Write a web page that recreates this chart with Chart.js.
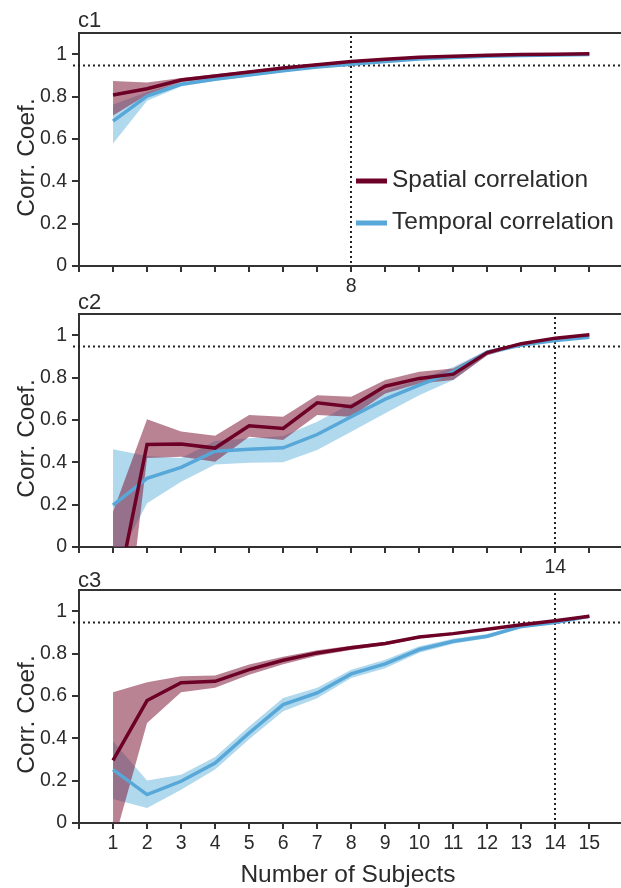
<!DOCTYPE html>
<html lang="en">
<head>
    <meta charset="UTF-8">
    <title>Corr. Coef. vs Number of Subjects</title>
    <style>
        html, body { margin: 0; padding: 0; background: #fff; overflow: hidden; }
        #wrap { position: relative; width: 621px; height: 888px; }
        canvas { position: absolute; left: 0; }
    </style>
</head>
<body>
    <div id="wrap">
        <canvas id="c1" width="621" height="300" style="top:0px"></canvas>
        <canvas id="c2" width="621" height="290" style="top:290px"></canvas>
        <canvas id="c3" width="621" height="318" style="top:570px"></canvas>
    </div>
    <script src="https://cdn.jsdelivr.net/npm/chart.js"></script>
    <script>
        // number of subjects on the x axis
        const subjects = [1, 2, 3, 4, 5, 6, 7, 8, 9, 10, 11, 12, 13, 14, 15];
        const xTickValues = [0, 1, 2, 3, 4, 5, 6, 7, 8, 9, 10, 11, 12, 13, 14, 15];
        const yTickValues = [0, 0.2, 0.4, 0.6, 0.8, 1];
        const threshold = 0.95;

        // c1
        const c1Spatial    = [0.807, 0.837, 0.878, 0.897, 0.916, 0.935, 0.950, 0.965, 0.976, 0.986, 0.990, 0.995, 0.998, 1.000, 1.002];
        const c1SpatialHi  = [0.873, 0.866, 0.888, 0.905, 0.923, 0.941, 0.956, 0.970, 0.980, 0.989, 0.993, 0.997, 0.999, 1.001, 1.003];
        const c1SpatialLo  = [0.711, 0.808, 0.868, 0.889, 0.909, 0.929, 0.944, 0.960, 0.972, 0.983, 0.987, 0.993, 0.997, 0.999, 1.001];
        const c1Temporal   = [0.684, 0.802, 0.858, 0.882, 0.902, 0.922, 0.939, 0.953, 0.966, 0.977, 0.984, 0.990, 0.994, 0.996, 0.998];
        const c1TemporalHi = [0.763, 0.822, 0.868, 0.890, 0.909, 0.928, 0.944, 0.958, 0.970, 0.980, 0.987, 0.992, 0.996, 0.998, 0.999];
        const c1TemporalLo = [0.578, 0.780, 0.848, 0.874, 0.895, 0.916, 0.934, 0.948, 0.962, 0.974, 0.981, 0.988, 0.992, 0.994, 0.997];
        const c1Cross = 8;
        const c1XLabels = [8];

        // c2
        const c2Spatial    = [-0.31, 0.484, 0.486, 0.467, 0.572, 0.560, 0.681, 0.662, 0.759, 0.796, 0.816, 0.918, 0.960, 0.986, 1.002];
        const c2SpatialHi  = [0.166, 0.603, 0.545, 0.525, 0.623, 0.615, 0.717, 0.709, 0.788, 0.827, 0.843, 0.928, 0.966, 0.990, 1.005];
        const c2SpatialLo  = [-0.935, 0.420, 0.426, 0.402, 0.520, 0.505, 0.623, 0.615, 0.725, 0.772, 0.788, 0.905, 0.954, 0.982, 0.998];
        const c2Temporal   = [0.198, 0.324, 0.376, 0.452, 0.462, 0.468, 0.531, 0.615, 0.698, 0.764, 0.827, 0.920, 0.953, 0.975, 0.990];
        const c2TemporalHi = [0.462, 0.430, 0.420, 0.500, 0.513, 0.524, 0.591, 0.678, 0.740, 0.790, 0.850, 0.930, 0.960, 0.980, 0.994];
        const c2TemporalLo = [-0.10, 0.206, 0.308, 0.390, 0.398, 0.400, 0.458, 0.544, 0.631, 0.717, 0.788, 0.905, 0.945, 0.970, 0.986];
        const c2Cross = 14;
        const c2XLabels = [14];

        // c3
        const c3Spatial    = [0.296, 0.578, 0.662, 0.669, 0.724, 0.768, 0.803, 0.827, 0.847, 0.878, 0.894, 0.915, 0.936, 0.955, 0.976];
        const c3SpatialHi  = [0.617, 0.665, 0.693, 0.696, 0.748, 0.785, 0.815, 0.837, 0.855, 0.884, 0.899, 0.919, 0.939, 0.958, 0.979];
        const c3SpatialLo  = [-0.104, 0.472, 0.617, 0.638, 0.700, 0.750, 0.790, 0.817, 0.839, 0.872, 0.889, 0.911, 0.933, 0.952, 0.973];
        const c3Temporal   = [0.252, 0.134, 0.197, 0.283, 0.425, 0.559, 0.614, 0.704, 0.751, 0.819, 0.858, 0.882, 0.928, 0.946, 0.976];
        const c3TemporalHi = [0.386, 0.201, 0.228, 0.312, 0.455, 0.590, 0.639, 0.724, 0.771, 0.834, 0.870, 0.892, 0.936, 0.951, 0.981];
        const c3TemporalLo = [0.113, 0.071, 0.157, 0.252, 0.395, 0.528, 0.589, 0.684, 0.731, 0.804, 0.846, 0.872, 0.920, 0.941, 0.971];
        const c3Cross = 14;
        const c3XLabels = subjects;

        const FONT = "'Liberation Sans', Arial, sans-serif";
        const INK = '#2b2b2b';
        const SPATIAL = '#6d0026';
        const SPATIAL_BAND = 'rgba(130, 30, 60, 0.55)';
        const TEMPORAL = '#57a7d8';
        const TEMPORAL_BAND = 'rgba(100, 180, 220, 0.5)';

        Chart.defaults.font.family = FONT;
        Chart.defaults.color = INK;

        function pts(values) {
            return subjects.map((n, i) => ({ x: n, y: values[i] }));
        }

        function line(label, values, color, order) {
            return { label, data: pts(values), borderColor: color, borderWidth: 3.5,
                     pointRadius: 0, fill: false, tension: 0, order, clip: 0 };
        }

        function band(values, color, order, fillNext) {
            return { label: '', data: pts(values), borderWidth: 0, borderColor: 'rgba(0,0,0,0)',
                     backgroundColor: color, pointRadius: 0, tension: 0,
                     fill: fillNext ? '+1' : false, order, clip: 0 };
        }

        // frame top edge, threshold line, crossing line, panel texts
        const panelPlugin = {
            id: 'panelPlugin',
            beforeDatasetsDraw(chart, args, opts) {
                const { ctx, chartArea: a, scales } = chart;
                ctx.save();
                ctx.strokeStyle = '#222';
                ctx.lineWidth = 2;
                ctx.setLineDash([2, 3]);
                const yT = Math.round(scales.y.getPixelForValue(threshold)) + 0.5;
                ctx.beginPath();
                ctx.moveTo(a.left - 6, yT);
                ctx.lineTo(a.right, yT);
                ctx.stroke();
                const xC = Math.round(scales.x.getPixelForValue(opts.cross));
                ctx.beginPath();
                ctx.moveTo(xC, a.top + 3);
                ctx.lineTo(xC, a.bottom);
                ctx.stroke();
                ctx.restore();
            },
            afterDraw(chart, args, opts) {
                const { ctx, chartArea: a } = chart;
                ctx.save();
                // top edge of the frame
                ctx.strokeStyle = '#333';
                ctx.lineWidth = 2;
                ctx.beginPath();
                ctx.moveTo(a.left - 1, a.top);
                ctx.lineTo(a.right, a.top);
                ctx.stroke();

                ctx.fillStyle = INK;
                ctx.font = '22px ' + FONT;
                ctx.textAlign = 'left';
                ctx.textBaseline = 'alphabetic';
                ctx.fillText(opts.name, a.left - 1, a.top - opts.nameGap);

                // y axis title
                ctx.font = '24.5px ' + FONT;
                ctx.save();
                ctx.translate(34, (a.top + a.bottom) / 2 + 8);
                ctx.rotate(-Math.PI / 2);
                ctx.textAlign = 'center';
                ctx.fillText('Corr. Coef.', 0, 0);
                ctx.restore();

                if (opts.xTitle) {
                    ctx.textAlign = 'center';
                    ctx.fillText(opts.xTitle, 348, a.bottom + 59);
                }

                if (opts.legend) {
                    const items = chart.data.datasets.filter(d => d.label);
                    items.forEach((d, i) => {
                        const y = a.top + 148 + i * 42;
                        ctx.strokeStyle = d.borderColor;
                        ctx.lineWidth = 5;
                        ctx.beginPath();
                        ctx.moveTo(a.left + 277, y);
                        ctx.lineTo(a.left + 308, y);
                        ctx.stroke();
                        ctx.fillStyle = INK;
                        ctx.textAlign = 'left';
                        ctx.fillText(d.label, a.left + 313, y + 6);
                    });
                }
                ctx.restore();
            }
        };

        function makePanel(id, s, sHi, sLo, t, tHi, tLo, opts) {
            const ctx = document.getElementById(id).getContext('2d');
            return new Chart(ctx, {
                type: 'line',
                data: {
                    datasets: [
                        line('Spatial correlation', s, SPATIAL, 1),
                        line('Temporal correlation', t, TEMPORAL, 2),
                        band(sHi, SPATIAL_BAND, 3, true),
                        band(sLo, SPATIAL_BAND, 3, false),
                        band(tHi, TEMPORAL_BAND, 4, true),
                        band(tLo, TEMPORAL_BAND, 4, false)
                    ]
                },
                options: {
                    responsive: false,
                    devicePixelRatio: 1,
                    animation: false,
                    layout: { padding: { top: opts.padTop, left: 0, right: 0, bottom: 0 } },
                    plugins: {
                        legend: { display: false },
                        tooltip: { enabled: false },
                        panelPlugin: opts
                    },
                    scales: {
                        x: {
                            type: 'linear',
                            min: 0,
                            max: 15.93,
                            afterBuildTicks: sc => { sc.ticks = xTickValues.map(v => ({ value: v })); },
                            afterFit: sc => { sc.height = opts.xHeight; },
                            ticks: {
                                autoSkip: false,
                                maxRotation: 0,
                                padding: 3,
                                color: INK,
                                font: { size: 19.5 },
                                callback: v => opts.xLabels.includes(v) ? String(v) : ''
                            },
                            grid: { drawOnChartArea: false, tickLength: 6, color: '#333', lineWidth: 2 },
                            border: { color: '#333', width: 2 }
                        },
                        y: {
                            min: 0,
                            max: 1.1,
                            afterBuildTicks: sc => { sc.ticks = yTickValues.map(v => ({ value: v })); },
                            afterFit: sc => { sc.width = 79; },
                            ticks: {
                                padding: 5,
                                color: INK,
                                font: { size: 19.5 },
                                callback: v => String(+v.toFixed(1))
                            },
                            grid: { drawOnChartArea: false, tickLength: 7, color: '#333', lineWidth: 2 },
                            border: { color: '#333', width: 2 }
                        }
                    }
                },
                plugins: [panelPlugin]
            });
        }

        makePanel('c1', c1Spatial, c1SpatialHi, c1SpatialLo, c1Temporal, c1TemporalHi, c1TemporalLo,
            { name: 'c1', nameGap: 6, cross: c1Cross, xLabels: c1XLabels, padTop: 33, xHeight: 34, legend: true });
        makePanel('c2', c2Spatial, c2SpatialHi, c2SpatialLo, c2Temporal, c2TemporalHi, c2TemporalLo,
            { name: 'c2', nameGap: 5, cross: c2Cross, xLabels: c2XLabels, padTop: 24, xHeight: 33 });
        makePanel('c3', c3Spatial, c3SpatialHi, c3SpatialLo, c3Temporal, c3TemporalHi, c3TemporalLo,
            { name: 'c3', nameGap: 3, cross: c3Cross, xLabels: c3XLabels, padTop: 20, xHeight: 65,
              xTitle: 'Number of Subjects' });
    </script>
</body>
</html>
